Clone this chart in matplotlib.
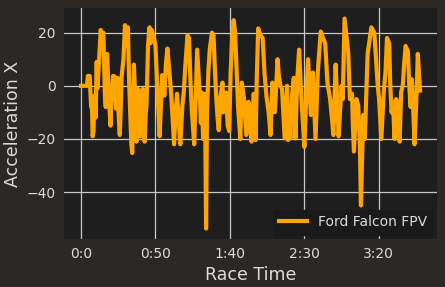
import matplotlib
matplotlib.use("Agg")
import matplotlib.pyplot as plt
from matplotlib.ticker import FuncFormatter, MultipleLocator

# Race time (seconds) and longitudinal acceleration
race_time = [
    0, 4, 4.6, 5.8, 6.3, 6.8, 7.2, 7.8, 8.4, 8.8, 9.3, 9.8, 10.5, 11, 12,
    13.2, 14, 15, 16, 16.6, 17.5, 18.5, 19.3, 19.8, 20.3, 20.8, 21.5, 22,
    22.5, 23.5, 24.5, 25.2, 26, 26.7, 27.3, 28.5, 29.5, 30.5, 31.5, 32.3,
    33, 33.8, 34.4, 35, 35.5, 36.2, 37.2, 37.8, 38.5, 39.2, 40, 40.6, 41.5,
    42.1, 42.7, 43.5, 44, 45, 46, 46.7, 47.5, 49, 50, 51.5, 52.8, 53.6,
    54.5, 56, 57, 58, 59.2, 60.5, 61.5, 62.5, 63.5, 64.5, 65.5, 66.7, 68,
    69, 70, 71.5, 72.5, 73.5, 74.5, 76, 77, 78, 79, 80, 80.5, 81, 82, 82.5,
    83, 83.5, 84, 84.6, 85.5, 86.5, 88, 89, 90, 91, 91.7, 92.5, 93.5, 95,
    95.5, 96, 97.5, 98.5, 99.5, 100.5, 101.5, 102.5, 103.5, 104.5, 105.5,
    107, 108, 109.5, 111, 112.5, 113.5, 114.5, 116, 117.3, 118, 119, 120.5,
    122, 123.2, 124.5, 126, 127.3, 128.5, 129.3, 130.2, 132, 133, 134, 135,
    136.8, 138.4, 139, 139.8, 140.6, 141.7, 142.9, 144, 145.2, 146.5, 147.7,
    148.8, 150, 151.2, 152.5, 154.4, 155.7, 156.6, 157.5, 159, 161, 162.5,
    164, 165.5, 167.3, 168.5, 169.5, 171, 172, 173, 175, 175.8, 177, 178,
    179.5, 180.6, 182, 182.6, 183.3, 185, 186.2, 187.3, 188, 189.5, 190.6,
    191.5, 192.5, 194, 195, 197, 198.4, 199.3, 200.2, 201.7, 203.3, 204.5,
    205.5, 207, 207.7, 208.6, 209.5, 210.6, 211.7, 212.8, 214, 215, 216.2,
    217, 218, 219.5, 220.6, 221.4, 222.2, 223.2, 224, 225.5, 226.2, 227.7,
]
accel_x = [
    0, 0, 3.7, 3.7, -2, -8, -4, -19, -17, -5, -3.7, -12, 9, -1, 8,
    21, 19, 20, -3, -8, 12, -2, -10, -15, -6, -3, 3.7, -5,
    3.5, -8.6, 3, -10, -18.5, -8, 3.7, 10, 22.8, 15, 22, 1.2,
    -10, -22, -25.3, -5, 8, -1.5, -21, -12, -1.2, -10, -19, -4, -1.2,
    -15, -21, -10, -7, 15, 22, 16, 21, 18, 15, -4, -19, -8,
    4, -3.7, 8, 14, 6, -2.5, -12, -22, -10, -3, -12, -22, -8,
    -2.5, 7, 19, 18, 2, -10, -22, -5, 13.6, 4, -6, -14, -2.5, -20, -10,
    -3, -20, -53.7, -10, 5, 14, 20, 19, 5, -6, -12, -16.7, -5, 1.2,
    -10, -6, -2.5, -15, -17, 5, 18, 24.7, 20, 6, -8,
    -20, 1.2, -5, -18.5, -6, -15, -21, -3, -20.4, 2, 21.6, 19,
    18, 5, -3.7, -10, -18.5, 1.2, -8, -9.9, 10, 3, 0, -1.2,
    -19.8, 0, -20.4, -8, -19.8, -3.7, 3, -19.8, 2, 13.6, -1.2,
    -12, -23, -5, 10, -11, 5, -8, -20, 5, 20.4, 18,
    16, 1.2, -5, -12, -18.5, 8, -5, -19, 0, -5, 25.3, 20,
    12.3, -5, -3, -15, -24.7, -5, -7.4, -22, -45, -11, -20,
    -5, 12, 18, 22, 20, 8, 0, -5, -20, -2.5, 5,
    18, 16, 0.6, -10, -6, -20, -5, -14, -21, -2.5, 0.6,
    8, 15, 13, -1.2, -8, 2.5, -10, -22, -1.2, 12, -1.8,
]

tick_seconds = [0, 50, 100, 150, 200]
series_label = "Ford Falcon FPV"

fig_bg = "#2b2826"
ax_bg = "#1e1e1e"
text_col = "#dcdcdc"

fig = plt.figure(figsize=(4.45, 2.87), dpi=100, facecolor=fig_bg)
ax = fig.add_axes([0.144, 0.167, 0.838, 0.805])
ax.set_facecolor(ax_bg)

ax.plot(race_time, accel_x, color="#FFA500", linewidth=3.0, label=series_label)

ax.set_xticks(tick_seconds)
ax.xaxis.set_major_formatter(FuncFormatter(lambda s, p: f"{int(s // 60)}:{int(s % 60)}"))
ax.yaxis.set_major_locator(MultipleLocator(20))

ax.grid(True, color="#c8c8c8", linewidth=0.9)
ax.set_axisbelow(True)
for sp in ax.spines.values():
    sp.set_visible(False)
ax.tick_params(colors=text_col, labelsize=10, length=0, pad=6)

ax.set_xlabel("Race Time", color=text_col, fontsize=12.5, labelpad=3)
ax.set_ylabel("Acceleration X", color=text_col, fontsize=12.5, labelpad=3)

leg = ax.legend(loc="lower right", fontsize=10, frameon=True, fancybox=False,
                borderaxespad=0.3, handlelength=2.0)
leg.get_frame().set_facecolor("#1a1a1a")
leg.get_frame().set_edgecolor("#1a1a1a")
leg.get_frame().set_alpha(1.0)
for t in leg.get_texts():
    t.set_color(text_col)

ax.margins(x=0.05, y=0.05)
fig.savefig("out.png", dpi=100, facecolor=fig_bg)
